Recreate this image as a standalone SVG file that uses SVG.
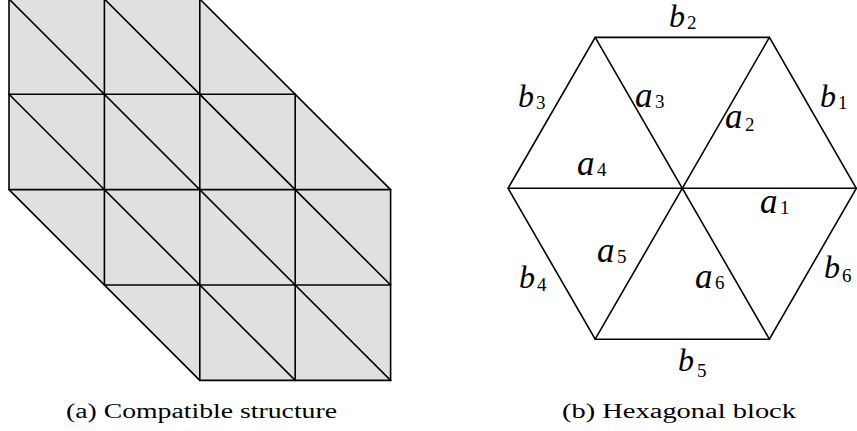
<svg xmlns="http://www.w3.org/2000/svg" width="857" height="431" viewBox="0 0 857 431">
<style>
.ln{stroke:#000;stroke-width:1.6;fill:none;stroke-linecap:round}
.fill{fill:#e0e0e0;stroke:none}
.v{font-family:"Liberation Serif",serif;font-style:italic;font-size:35px;fill:#000}
.vb{font-family:"Liberation Serif",serif;font-style:italic;font-size:32px;fill:#000}
.s{font-family:"Liberation Serif",serif;font-style:normal;font-size:19px;fill:#000}
.cap{font-family:"Liberation Serif",serif;font-size:20px;fill:#000}
</style>
<rect width="857" height="431" fill="#fff"/>
<g id="grid">
<polygon class="fill" points="9,-1 199.8,-1 390.6,189.6 390.6,380.4 199.8,380.4 9,189.6"/>
<g class="ln">
<line x1="9" y1="-1" x2="199.8" y2="-1"/>
<line x1="9" y1="94.2" x2="295.2" y2="94.2"/>
<line x1="9" y1="189.6" x2="390.6" y2="189.6"/>
<line x1="104.4" y1="285" x2="390.6" y2="285"/>
<line x1="199.8" y1="380.4" x2="390.6" y2="380.4"/>
<line x1="9" y1="-1" x2="9" y2="189.6"/>
<line x1="104.4" y1="-1" x2="104.4" y2="285"/>
<line x1="199.8" y1="-1" x2="199.8" y2="380.4"/>
<line x1="295.2" y1="94.2" x2="295.2" y2="380.4"/>
<line x1="390.6" y1="189.6" x2="390.6" y2="380.4"/>
<line x1="9" y1="-1" x2="390.6" y2="380.4"/>
<line x1="104.4" y1="-1" x2="390.6" y2="285"/>
<line x1="199.8" y1="-1" x2="390.6" y2="189.6"/>
<line x1="9" y1="94.2" x2="295.2" y2="380.4"/>
<line x1="9" y1="189.6" x2="199.8" y2="380.4"/>
</g>
</g>
<g id="hexagon">
<g class="ln">
<polygon points="856.3,188.3 769.4,37.4 595.2,37.4 508.1,188.3 595.2,339.2 769.4,339.2"/>
<line x1="508.1" y1="188.3" x2="856.3" y2="188.3"/>
<line x1="595.2" y1="37.4" x2="769.4" y2="339.2"/>
<line x1="769.4" y1="37.4" x2="595.2" y2="339.2"/>
</g>
</g>
<g id="labels">
<text class="vb" x="669" y="27">b<tspan class="s" x="687" y="29">2</tspan></text>
<text class="vb" x="518" y="107">b<tspan class="s" x="536" y="109">3</tspan></text>
<text class="v" x="635" y="107">a<tspan class="s" x="655" y="108">3</tspan></text>
<text class="vb" x="820" y="107">b<tspan class="s" x="838" y="109">1</tspan></text>
<text class="v" x="725" y="128">a<tspan class="s" x="745" y="131">2</tspan></text>
<text class="v" x="577" y="175">a<tspan class="s" x="597" y="176">4</tspan></text>
<text class="v" x="760" y="213">a<tspan class="s" x="780" y="214">1</tspan></text>
<text class="v" x="597" y="262">a<tspan class="s" x="617" y="263">5</tspan></text>
<text class="vb" x="519" y="288">b<tspan class="s" x="537" y="291">4</tspan></text>
<text class="v" x="695" y="288">a<tspan class="s" x="715" y="289">6</tspan></text>
<text class="vb" x="824" y="278">b<tspan class="s" x="842" y="282">6</tspan></text>
<text class="vb" x="678" y="371">b<tspan class="s" x="697" y="377">5</tspan></text>
</g>
<g id="captions">
<text class="cap" x="66" y="418" textLength="271" lengthAdjust="spacingAndGlyphs">(a) Compatible structure</text>
<text class="cap" x="562" y="418" textLength="234" lengthAdjust="spacingAndGlyphs">(b) Hexagonal block</text>
</g>
</svg>
